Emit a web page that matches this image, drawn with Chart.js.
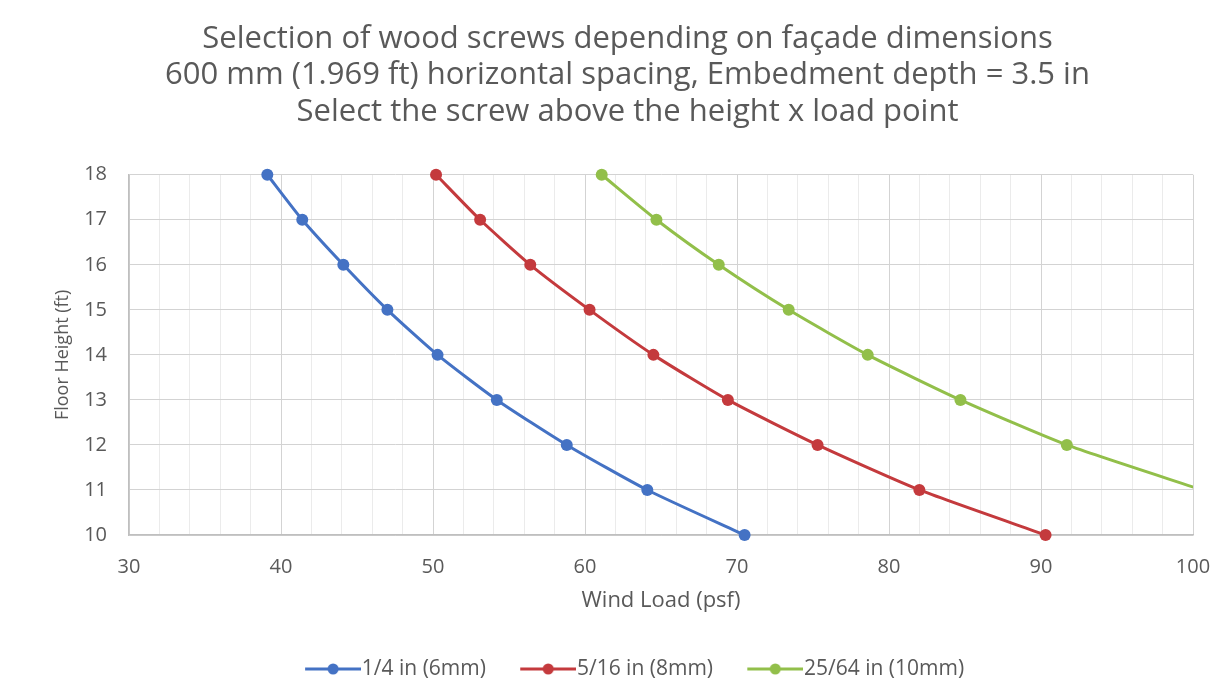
<!DOCTYPE html>
<html>
<head>
<meta charset="utf-8">
<script src="https://cdn.jsdelivr.net/npm/chart.js@4/dist/chart.umd.min.js"></script>
<style>
  html, body { margin: 0; padding: 0; background: #fff; }
  #wrap { width: 1228px; height: 692px; position: relative; }
</style>
</head>
<body>
<div id="wrap"><canvas id="c" width="1228" height="692"></canvas></div>
<script>
// ---- data ----
const titleLines = [
  'Selection of wood screws depending on façade dimensions',
  '600 mm (1.969 ft) horizontal spacing, Embedment depth = 3.5 in',
  'Select the screw above the height x load point'
];
const seriesNames = ['1/4 in (6mm)', '5/16 in (8mm)', '25/64 in (10mm)'];
const floorHeights = [18, 17, 16, 15, 14, 13, 12, 11, 10];
const load6mm  = [39.1, 41.4, 44.1, 47.0, 50.3, 54.2, 58.8, 64.1, 70.5];
const load8mm  = [50.2, 53.1, 56.4, 60.3, 64.5, 69.4, 75.3, 82.0, 90.3];
const load10mm = [61.1, 64.7, 68.8, 73.4, 78.6, 84.7, 91.7, 100.6];
const xTicks = [30, 40, 50, 60, 70, 80, 90, 100];
const yTicks = [10, 11, 12, 13, 14, 15, 16, 17, 18];

const colors = ['#4472C4', '#C43A3D', '#92BF4A'];
const txt = '#595959';
const FONT = "'Open Sans', 'DejaVu Sans', sans-serif";

const LEG_BOX = 70.5;   // legend box width
const LEG_FONT = 21;
function legendIcon(color) {
  // canvas centred on the box; line drawn in its right-hand 56px
  const cw = Math.round(LEG_BOX + LEG_FONT - 2);
  const cv = document.createElement('canvas');
  cv.width = cw; cv.height = 14;
  const g = cv.getContext('2d');
  g.strokeStyle = color; g.lineWidth = 3;
  g.beginPath(); g.moveTo(cw - 56, 7); g.lineTo(cw, 7); g.stroke();
  g.fillStyle = color;
  g.beginPath(); g.arc(cw - 28, 7, 5.5, 0, Math.PI * 2); g.fill();
  return cv;
}
const icons = colors.map(legendIcon);

function toPts(xs) { return xs.map((x, i) => ({ x: x, y: floorHeights[i] })); }

const allLoads = [load6mm, load8mm, load10mm];
const datasets = allLoads.map((arr, i) => ({
  label: seriesNames[i],
  data: toPts(arr),
  showLine: true,
  borderColor: colors[i],
  backgroundColor: colors[i],
  borderWidth: 3,
  pointRadius: 6,
  pointHoverRadius: 6,
  pointBorderWidth: 0,
  pointStyle: 'circle',
  tension: 0.2,
  clip: { left: 10, top: 10, right: 0, bottom: 10 }
}));

const shiftPlugin = {
  id: 'shiftBlocks',
  afterLayout(chart) {
    const t = chart.titleBlock;
    if (t) { t.left += 31; t.right += 31; }
    const l = chart.legend;
    if (l) { l.left += 26; l.right += 26; }
  }
};

new Chart(document.getElementById('c'), {
  type: 'scatter',
  data: { datasets },
  plugins: [shiftPlugin],
  options: {
    responsive: false,
    animation: false,
    events: [],
    layout: { padding: { left: 0, right: 35, top: 0, bottom: 2.5 } },
    plugins: {
      title: {
        display: true,
        text: titleLines,
        color: txt,
        font: { family: FONT, size: 31, weight: 'normal', lineHeight: 1.18 },
        padding: { top: 20.5, bottom: 44.5 }
      },
      legend: {
        position: 'bottom',
        labels: {
          usePointStyle: true,
          pointStyleWidth: LEG_BOX,
          color: txt,
          font: { family: FONT, size: LEG_FONT },
          padding: 10,
          generateLabels: (chart) => chart.data.datasets.map((d, i) => ({
            text: d.label,
            pointStyle: icons[i],
            fillStyle: colors[i],
            strokeStyle: colors[i],
            lineWidth: 0,
            fontColor: txt,
            datasetIndex: i,
            hidden: false
          }))
        }
      },
      tooltip: { enabled: false }
    },
    scales: {
      x: {
        type: 'linear',
        min: xTicks[0],
        max: xTicks[xTicks.length - 1],
        afterBuildTicks: (s) => {
          const t = [];
          for (let v = xTicks[0]; v <= xTicks[xTicks.length - 1]; v += 2) t.push({ value: v });
          s.ticks = t;
        },
        afterFit: (s) => { s.height = 113.5; s.paddingRight = 0; s.paddingLeft = 0; },
        ticks: {
          autoSkip: false,
          maxRotation: 0,
          padding: 20,
          color: txt,
          font: { family: FONT, size: 20 },
          callback: (v) => (xTicks.includes(v) ? String(v) : '')
        },
        grid: {
          drawTicks: false,
          color: (ctx) => (ctx.tick && xTicks.includes(ctx.tick.value) ? '#D3D3D3' : '#EBEBEB'),
          lineWidth: 1
        },
        border: { display: true, color: '#BFBFBF', width: 1.5 },
        title: {
          display: true,
          text: 'Wind Load (psf)',
          color: txt,
          font: { family: FONT, size: 22 },
          padding: { top: 0, bottom: 35 }
        }
      },
      y: {
        type: 'linear',
        min: yTicks[0],
        max: yTicks[yTicks.length - 1],
        afterBuildTicks: (s) => { s.ticks = yTicks.map(v => ({ value: v })); },
        afterFit: (s) => { s.width = 129; },
        ticks: {
          padding: 22,
          color: txt,
          font: { family: FONT, size: 20 }
        },
        grid: { drawTicks: false, color: '#D3D3D3', lineWidth: 1 },
        border: { display: true, color: '#BFBFBF', width: 1.5 },
        title: {
          display: true,
          text: 'Floor Height (ft)',
          color: txt,
          font: { family: FONT, size: 18 },
          padding: { top: 52, bottom: 0 }
        }
      }
    }
  }
});
</script>
</body>
</html>
